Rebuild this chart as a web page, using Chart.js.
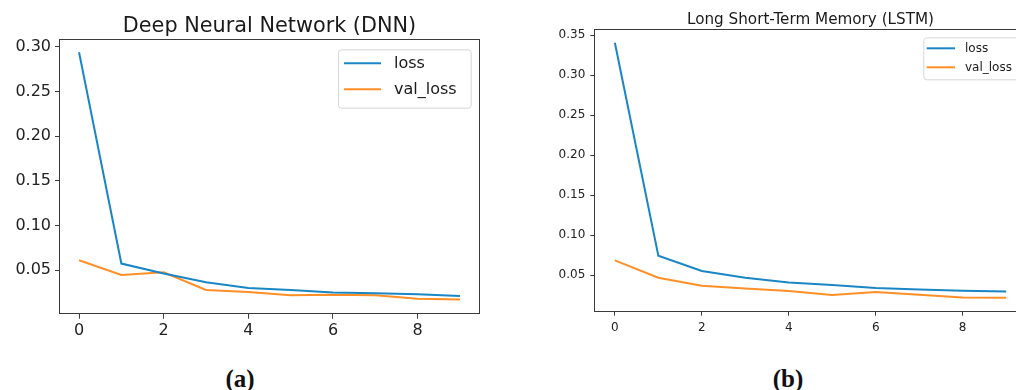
<!DOCTYPE html>
<html><head><meta charset="utf-8">
<script src="https://cdn.jsdelivr.net/npm/chart.js@4.4.1/dist/chart.umd.min.js"></script>
<style>
html,body{margin:0;padding:0;background:#fff;overflow:hidden;width:1016px;height:390px;}
#wrap{position:relative;width:1016px;height:390px;overflow:hidden;background:#fff;}
canvas{position:absolute;top:0;}
#cA{left:0}
#cB{left:530px}
.cap{position:absolute;font-family:"Liberation Serif",serif;font-weight:bold;font-size:25px;line-height:25px;transform:translateX(-50%);color:#111;top:366px;white-space:nowrap}
</style></head><body>
<div id="wrap">
<canvas id="cA" width="480" height="340"></canvas>
<canvas id="cB" width="510" height="340"></canvas>
<div class="cap" style="left:240px">(a)</div>
<div class="cap" style="left:788px">(b)</div>
</div>
<script>
// ---- data ----
const epochs = [0,1,2,3,4,5,6,7,8,9];
const xTickValues = [0,2,4,6,8];
const seriesNames = ['loss','val_loss'];
const dnnTitle = 'Deep Neural Network (DNN)';
const lstmTitle = 'Long Short-Term Memory (LSTM)';
const dnnLoss    = [0.294, 0.0575, 0.0463, 0.0366, 0.0302, 0.0280, 0.0252, 0.0243, 0.0232, 0.0213];
const dnnValLoss = [0.0612, 0.0447, 0.0478, 0.0280, 0.0257, 0.0220, 0.0226, 0.0220, 0.0182, 0.0174];
const lstmLoss    = [0.3405, 0.0742, 0.0552, 0.0467, 0.0409, 0.0375, 0.0338, 0.0321, 0.0305, 0.0296];
const lstmValLoss = [0.0684, 0.0467, 0.0367, 0.0334, 0.0300, 0.0250, 0.0288, 0.0255, 0.0221, 0.0217];
const dnnYTicks  = [0.05, 0.10, 0.15, 0.20, 0.25, 0.30];
const lstmYTicks = [0.05, 0.10, 0.15, 0.20, 0.25, 0.30, 0.35];

const BLUE = '#1a87c4';
const ORANGE = '#ff8f26';
const FONT = '"DejaVu Sans", sans-serif';

const decor = {
  id: 'decor',
  afterDatasetsDraw(chart, args, o) {
    const ctx = chart.ctx, a = chart.chartArea;
    ctx.save();
    // frame
    ctx.strokeStyle = '#3a3a3a';
    ctx.lineWidth = 1;
    ctx.strokeRect(Math.round(a.left) - 0.5, Math.round(a.top) - 0.5, Math.round(a.right - a.left) + 1, Math.round(a.bottom - a.top) + 1);
    // title
    ctx.fillStyle = '#1a1a1a';
    ctx.font = o.titleSize + 'px ' + FONT;
    ctx.textAlign = 'center';
    ctx.textBaseline = 'alphabetic';
    ctx.fillText(o.title, (a.left + a.right) / 2, o.titleBaseline);
    // legend
    const L = o.legend;
    const right = a.right - L.marginRight, top = a.top + L.marginTop;
    const left = right - L.width, h = L.height;
    ctx.beginPath();
    if (ctx.roundRect) ctx.roundRect(left + 0.5, top + 0.5, L.width, h, 3); else ctx.rect(left + 0.5, top + 0.5, L.width, h);
    ctx.fillStyle = 'rgba(255,255,255,0.85)';
    ctx.fill();
    ctx.strokeStyle = '#d6d6d6';
    ctx.stroke();
    ctx.font = L.fontSize + 'px ' + FONT;
    ctx.textAlign = 'left';
    ctx.textBaseline = 'middle';
    chart.data.datasets.forEach((ds, i) => {
      const y = top + L.firstRow + i * L.rowGap;
      ctx.strokeStyle = ds.borderColor;
      ctx.lineWidth = 2;
      ctx.beginPath();
      ctx.moveTo(left + L.lineStart, y);
      ctx.lineTo(left + L.lineStart + L.lineLen, y);
      ctx.stroke();
      ctx.fillStyle = '#1a1a1a';
      ctx.fillText(ds.label, left + L.textStart, y + 1);
    });
    ctx.restore();
  }
};

function makeChart(id, loss, val, yTicks, yMin, yMax, cfg) {
  const pts = arr => epochs.map((e, i) => ({x: e, y: arr[i]}));
  return new Chart(document.getElementById(id), {
    type: 'line',
    data: {
      datasets: [
        {label: seriesNames[0], data: pts(loss), borderColor: BLUE, backgroundColor: BLUE, borderWidth: 2, pointRadius: 0, tension: 0},
        {label: seriesNames[1], data: pts(val), borderColor: ORANGE, backgroundColor: ORANGE, borderWidth: 2, pointRadius: 0, tension: 0}
      ]
    },
    options: {
      responsive: false,
      animation: false,
      devicePixelRatio: 1,
      layout: {padding: {left: 0, right: cfg.padRight, top: cfg.padTop, bottom: 0}},
      plugins: {
        legend: {display: false},
        title: {display: false},
        tooltip: {enabled: false},
        decor: cfg.decor
      },
      scales: {
        x: {
          type: 'linear', min: -0.45, max: 9.45,
          afterBuildTicks: s => { s.ticks = xTickValues.map(v => ({value: v})); },
          afterFit: s => { s.height = cfg.xHeight; },
          grid: {display: true, drawOnChartArea: false, drawTicks: true, tickLength: cfg.tickLen, tickColor: '#3a3a3a', tickWidth: 1},
          border: {display: false},
          ticks: {color: '#222', font: {family: FONT, size: cfg.fontSize}, padding: cfg.xPad, maxRotation: 0, autoSkip: false, callback: v => String(v)}
        },
        y: {
          type: 'linear', min: yMin, max: yMax,
          afterBuildTicks: s => { s.ticks = yTicks.map(v => ({value: v})); },
          afterFit: s => { s.width = cfg.yWidth; },
          grid: {display: true, drawOnChartArea: false, drawTicks: true, tickLength: 5, tickColor: '#3a3a3a', tickWidth: 1},
          border: {display: false},
          ticks: {color: '#222', font: {family: FONT, size: cfg.fontSize}, padding: cfg.yPad, autoSkip: false, callback: v => v.toFixed(2)}
        }
      }
    },
    plugins: [decor]
  });
}

makeChart('cA', dnnLoss, dnnValLoss, dnnYTicks, 0.0025, 0.3077, {
  padRight: 1, padTop: 40, xHeight: 27.3, yWidth: 60, tickLen: 6, xPad: 2.5, yPad: 4, fontSize: 16,
  decor: {title: dnnTitle, titleSize: 20.8, titleBaseline: 32,
    legend: {marginRight: 8.3, marginTop: 9.3, width: 132.7, height: 58.4, firstRow: 14, rowGap: 26, lineStart: 6, lineLen: 37, textStart: 56, fontSize: 16}}
});

makeChart('cB', lstmLoss, lstmValLoss, lstmYTicks, 0.0055, 0.3564, {
  padRight: 14.3, padTop: 30, xHeight: 29.3, yWidth: 65.3, tickLen: 5, xPad: 5, yPad: 5, fontSize: 12,
  decor: {title: lstmTitle, titleSize: 15.2, titleBaseline: 23.5,
    legend: {marginRight: 6.7, marginTop: 7.3, width: 95.7, height: 42, firstRow: 11, rowGap: 19, lineStart: 3.4, lineLen: 28.3, textStart: 41.7, fontSize: 12}}
});
</script>
</body></html>
